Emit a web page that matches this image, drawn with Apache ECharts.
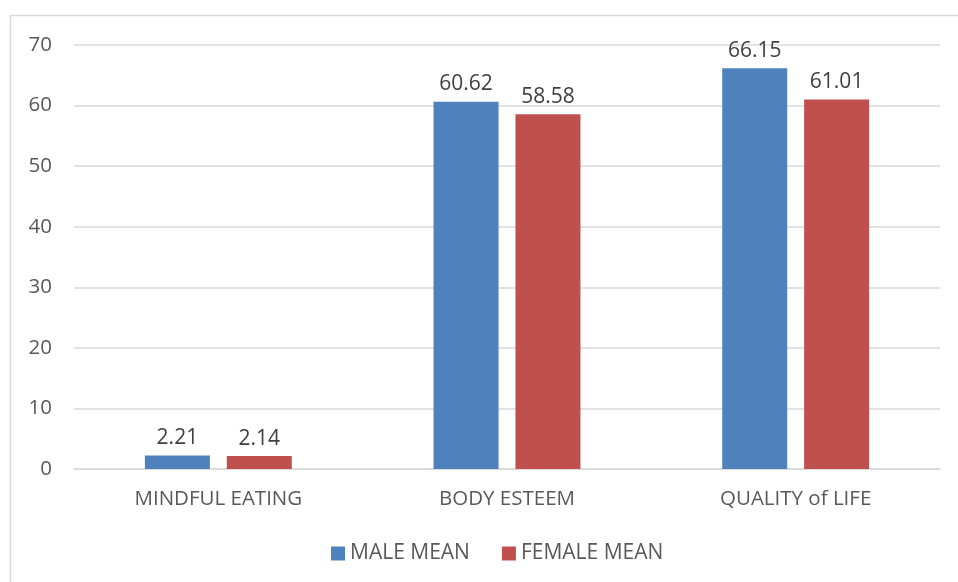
<!DOCTYPE html>
<html>
<head>
<meta charset="utf-8">
<script src="https://cdn.jsdelivr.net/npm/echarts@6/dist/echarts.min.js"></script>
<style>
  html, body { margin: 0; padding: 0; background: #fff; }
  #chart { width: 958px; height: 582px; }
</style>
</head>
<body>
<div id="chart"></div>
<script>
// Mean scores by gender for each measure
const categories = ['MINDFUL EATING', 'BODY ESTEEM', 'QUALITY of LIFE'];
const maleMean = [2.21, 60.62, 66.15];
const femaleMean = [2.14, 58.58, 61.01];
const seriesNames = ['MALE MEAN', 'FEMALE MEAN'];

const FONT = '"Open Sans", "Liberation Sans", sans-serif';
const TEXT = '#595959';

const chart = echarts.init(document.getElementById('chart'));
const labelStyle = {
  show: true,
  position: 'top',
  distance: 7,
  color: '#404040',
  fontSize: 21,
  fontFamily: FONT
};

chart.setOption({
  animation: false,
  backgroundColor: '#fff',
  graphic: [{
    type: 'rect',
    shape: { x: 10.5, y: 15.5, width: 960, height: 600 },
    style: { fill: 'none', stroke: '#d9d9d9', lineWidth: 1.5 },
    silent: true
  }],
  grid: { left: 74, right: 18, top: 45, bottom: 113 },
  legend: {
    bottom: 13,
    left: 326,
    itemWidth: 14,
    itemHeight: 14,
    itemGap: 32,
    icon: 'rect',
    textStyle: { color: TEXT, fontSize: 21, fontFamily: FONT },
    data: seriesNames
  },
  xAxis: {
    type: 'category',
    data: categories,
    axisLine: { lineStyle: { color: '#d9d9d9', width: 1.5 } },
    axisTick: { show: false },
    axisLabel: { color: TEXT, fontSize: 20.5, fontFamily: FONT, margin: 20 }
  },
  yAxis: {
    type: 'value',
    min: 0,
    max: 70,
    interval: 10,
    axisLine: { show: false },
    axisTick: { show: false },
    axisLabel: { color: TEXT, fontSize: 20.5, fontFamily: FONT, margin: 22 },
    splitLine: { lineStyle: { color: '#d9d9d9', width: 1.5 } }
  },
  series: [
    {
      name: seriesNames[0],
      type: 'bar',
      data: maleMean,
      barWidth: 65,
      barGap: '26%',
      itemStyle: { color: '#4f81bd' },
      label: labelStyle
    },
    {
      name: seriesNames[1],
      type: 'bar',
      data: femaleMean,
      barWidth: 65,
      itemStyle: { color: '#c0504d' },
      label: labelStyle
    }
  ]
});
</script>
</body>
</html>
